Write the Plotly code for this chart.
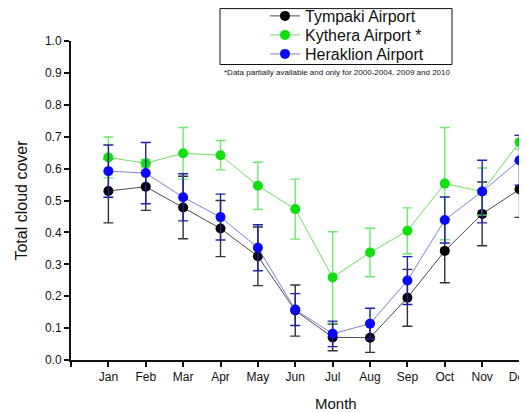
import plotly.graph_objects as go

months = ["Jan", "Feb", "Mar", "Apr", "May", "Jun", "Jul", "Aug", "Sep", "Oct", "Nov", "Dec"]

tympaki = [0.530, 0.543, 0.478, 0.412, 0.325, 0.155, 0.071, 0.070, 0.195, 0.342, 0.458, 0.535]
tympaki_err = [0.100, 0.074, 0.098, 0.088, 0.092, 0.080, 0.042, 0.046, 0.089, 0.100, 0.100, 0.088]

kythera = [0.635, 0.617, 0.648, 0.642, 0.546, 0.473, 0.259, 0.337, 0.405, 0.553, 0.528, 0.683]
kythera_err = [0.064, 0.012, 0.081, 0.046, 0.074, 0.094, 0.143, 0.076, 0.072, 0.176, 0.074, 0.022]

heraklion = [0.592, 0.586, 0.510, 0.448, 0.352, 0.158, 0.082, 0.114, 0.249, 0.439, 0.528, 0.626]
heraklion_err = [0.082, 0.096, 0.074, 0.072, 0.072, 0.050, 0.040, 0.048, 0.075, 0.072, 0.098, 0.078]

y_ticks = [i / 10 for i in range(11)]
x_pos = list(range(1, len(months) + 1))

FONT = "Arial, Liberation Sans, sans-serif"
INK = "#111111"

# page body adds an 8px offset; layout works in window pixels
OFF = 8
PL, PT, PB = 71, 41, 360          # plot left / top / bottom in window px
PW = 456


def px(xw):
    return (xw - PL) / PW


def py(yw):
    return (PB - yw) / (PB - PT)


fig = go.Figure()

series = [
    ("Tympaki Airport", tympaki, tympaki_err, "#000000", "#4a4a4a", "#333333", "legend", 16),
    ("Kythera Airport *", kythera, kythera_err, "#10e010", "#70dd60", "#6ee86e", "legend2", 35),
    ("Heraklion Airport", heraklion, heraklion_err, "#0a0af5", "#8080d8", "#2020a8", "legend3", 54),
]

legends = {}
for name, vals, errs, mcol, lcol, ecol, leg, ly in series:
    fig.add_trace(go.Scatter(
        x=x_pos, y=vals, name=name, mode="lines+markers",
        line=dict(color=lcol, width=1),
        marker=dict(color=mcol, size=10, line=dict(width=0)),
        error_y=dict(type="data", array=errs, symmetric=True,
                     color=ecol, thickness=1.4, width=5),
        legend=leg,
    ))
    legends[leg] = dict(x=px(265), y=py(ly), xanchor="left", yanchor="middle",
                        font=dict(size=16, family=FONT, color=INK),
                        bgcolor="rgba(0,0,0,0)", borderwidth=0)

fig.update_layout(
    width=527 - OFF, height=412 - OFF,
    margin=dict(l=PL - OFF, r=0, t=PT - OFF, b=412 - PB, autoexpand=False),
    paper_bgcolor="white", plot_bgcolor="white",
    font=dict(family=FONT, color=INK),
    showlegend=True,
    **legends,
    xaxis=dict(
        range=[0, 12.2], tickmode="array",
        tickvals=[0] + x_pos, ticktext=[""] + months,
        ticks="outside", ticklen=5, tickwidth=1.5, tickcolor=INK,
        showline=True, linecolor=INK, linewidth=2,
        showgrid=False, zeroline=False,
        tickfont=dict(size=12, family=FONT, color=INK),
        ticklabeloverflow="allow",
    ),
    yaxis=dict(
        range=[0, 1.0], tickmode="array", tickvals=y_ticks,
        tickformat=".1f",
        ticks="outside", ticklen=5, tickwidth=1.5, tickcolor=INK,
        showline=True, linecolor=INK, linewidth=2,
        showgrid=False, zeroline=False,
        tickfont=dict(size=12, family=FONT, color=INK),
        title=dict(text="Total cloud cover", font=dict(size=16, family=FONT, color=INK),
                   standoff=13),
    ),
    shapes=[dict(type="rect", xref="paper", yref="paper",
                 x0=px(220), x1=px(452), y0=py(64.5), y1=py(8.6),
                 line=dict(color=INK, width=1), fillcolor="rgba(0,0,0,0)")],
    annotations=[
        dict(text="*Data partially available and only for 2000-2004, 2009 and 2010",
             xref="paper", yref="paper", x=px(337), y=py(73),
             xanchor="center", yanchor="middle", showarrow=False,
             font=dict(size=8, family=FONT, color=INK)),
        dict(text="Month", xref="paper", yref="paper",
             x=px(336), y=py(403),
             xanchor="center", yanchor="middle", showarrow=False,
             font=dict(size=15, family=FONT, color=INK)),
    ],
)

fig.write_html("out.html")
